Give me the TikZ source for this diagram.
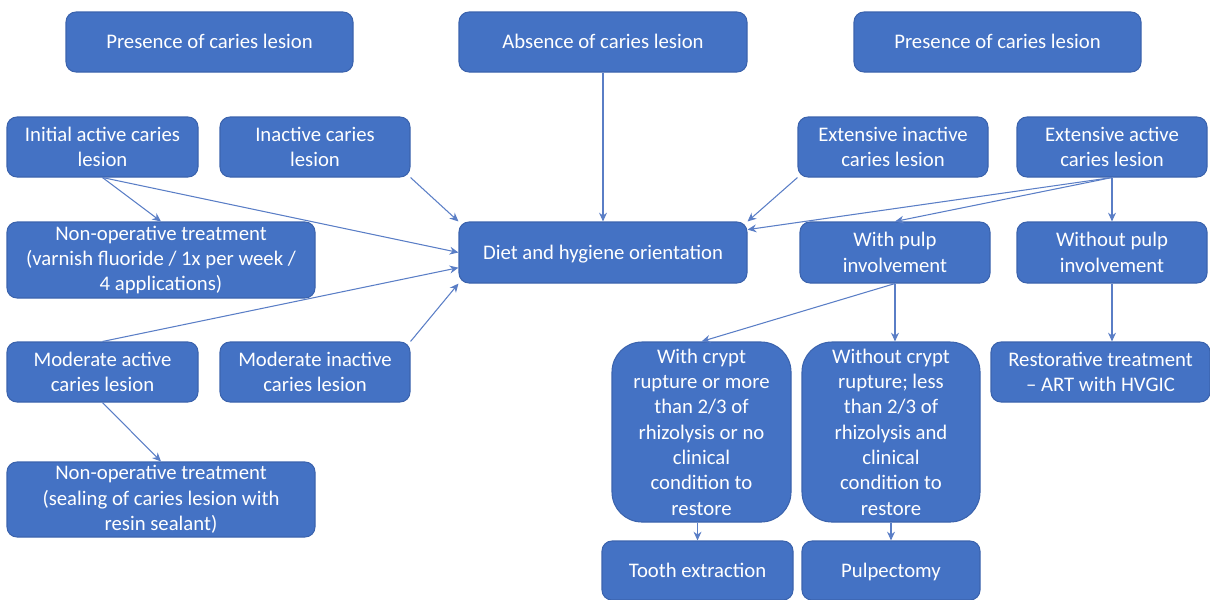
\documentclass[tikz,border=0pt]{standalone}
\usepackage{fontspec}
\setmainfont{Carlito}
\usetikzlibrary{arrows.meta}
\definecolor{boxblue}{HTML}{4472C4}
\definecolor{boxedge}{HTML}{3B63AD}
\definecolor{linkblue}{HTML}{5A7EC6}
\tikzset{
  sz/.style 2 args={minimum width=#1*0.02cm, minimum height=#2*0.02cm},
  box/.style={draw=boxedge, line width=0.6pt, fill=boxblue, text=white, rounded corners=0.2cm,
    align=center, inner sep=1pt, font=\fontsize{11.8}{14.4}\selectfont},
  oneline/.style={box, text height=1.6ex, text depth=0pt},
  tallbox/.style={box, rounded corners=0.6cm},
  link/.style={->, draw=linkblue, line width=0.6pt}
}
\begin{document}
\begin{tikzpicture}[>={Stealth[length=5pt,width=4.5pt]}, x=0.02cm, y=-0.02cm]
  \useasboundingbox (0,0) rectangle (1210,599);
  % top row
  \node[oneline, sz={287}{60}] (pres1) at (209.5,42) {Presence of caries lesion};
  \node[oneline, sz={288}{60}] (absent) at (603,42) {Absence of caries lesion};
  \node[oneline, sz={287}{60}] (pres2) at (997.5,42) {Presence of caries lesion};
  % lesion types
  \node[box, sz={191}{60}] (initact) at (102.5,147) {Initial active caries\\lesion};
  \node[box, sz={190}{60}] (inact) at (315,147) {Inactive caries\\lesion};
  \node[box, sz={190}{60}] (extinact) at (893,147) {Extensive inactive\\caries lesion};
  \node[box, sz={190}{60}] (extact) at (1112,147) {Extensive active\\caries lesion};
  % middle row
  \node[box, sz={308}{76}] (varnish) at (161,260) {Non-operative treatment\\(varnish fluoride / 1x per week /\\4 applications)};
  \node[oneline, sz={288}{61}] (diet) at (603,252.5) {Diet and hygiene orientation};
  \node[box, sz={190}{61}] (pulp) at (895,252.5) {With pulp\\involvement};
  \node[box, sz={190}{61}] (nopulp) at (1112,252.5) {Without pulp\\involvement};
  % moderate lesions and pulp branches
  \node[box, sz={191}{60}] (modact) at (102.5,372) {Moderate active\\caries lesion};
  \node[box, sz={190}{60}] (modinact) at (315,372) {Moderate inactive\\caries lesion};
  \node[tallbox, sz={179}{180}] (crypt) at (701.5,432) {With crypt\\rupture or more\\than 2/3 of\\rhizolysis or no\\clinical\\condition to\\restore};
  \node[tallbox, sz={178}{180}] (nocrypt) at (891,432) {Without crypt\\rupture; less\\than 2/3 of\\rhizolysis and\\clinical\\condition to\\restore};
  \node[box, sz={219}{60}] (restor) at (1100.5,372) {Restorative treatment\\-- ART with HVGIC};
  % bottom row
  \node[box, sz={308}{75}] (sealant) at (161,499.5) {Non-operative treatment\\(sealing of caries lesion with\\resin sealant)};
  \node[oneline, sz={191}{59}] (extract) at (697.5,570.5) {Tooth extraction};
  \node[oneline, sz={178}{59}] (pulpect) at (891,570.5) {Pulpectomy};
  % connectors
  \draw[link] (initact.south) -- (varnish.north);
  \draw[link] (initact.south) -- (diet.west);
  \draw[link] (inact.south east) -- (diet.north west);
  \draw[link] (modact.north) -- (diet.186);
  \draw[link] (modinact.north east) -- (diet.south west);
  \draw[link] (modact.south) -- (sealant.north);
  \draw[link] (absent.south) -- (diet.north);
  \draw[link] (extinact.south west) -- (diet.north east);
  \draw[link] (extact.south) -- (diet.9);
  \draw[link] (extact.south) -- (pulp.north);
  \draw[link] (extact.south) -- (nopulp.north);
  \draw[link] (pulp.south) -- (crypt.north);
  \draw[link] (pulp.south) -- (pulp.south |- nocrypt.north);
  \draw[link] (nopulp.south) -- (nopulp.south |- restor.north);
  \draw[link] (extract.north |- crypt.south) -- (extract.north);
  \draw[link] (nocrypt.south) -- (pulpect.north);
\end{tikzpicture}
\end{document}
